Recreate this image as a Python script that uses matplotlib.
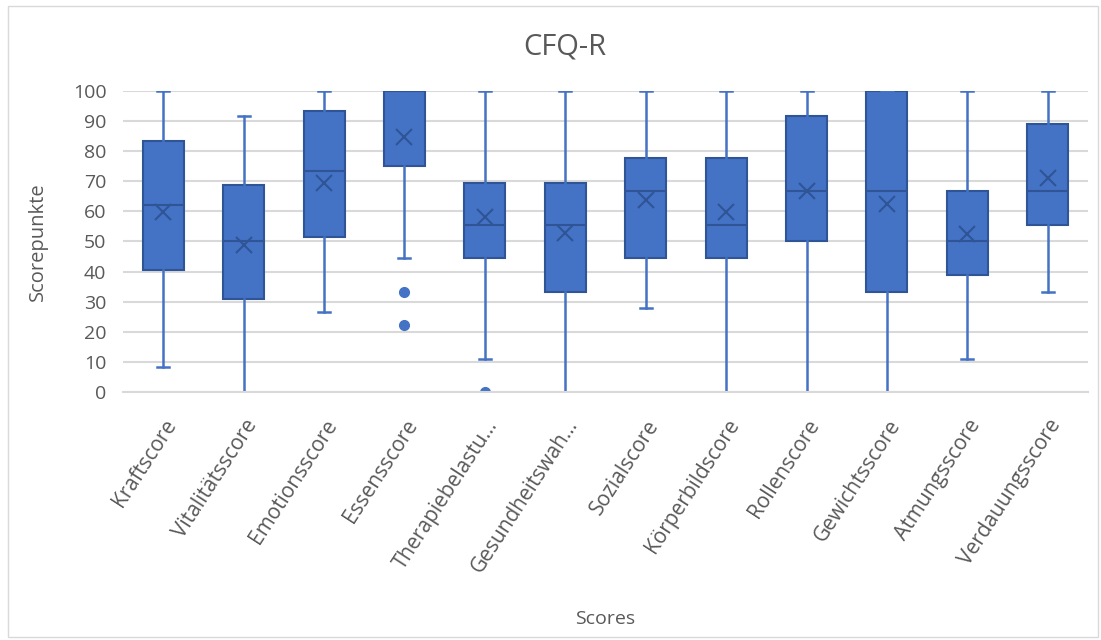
import matplotlib.pyplot as plt
from matplotlib.patches import Rectangle

plt.rcParams['font.family'] = ['Open Sans', 'DejaVu Sans']

# CFQ-R subscales
labels = ["Kraftscore", "Vitalitätsscore", "Emotionsscore", "Essensscore",
          "Therapiebelastu...", "Gesundheitswah...", "Sozialscore",
          "Körperbildscore", "Rollenscore", "Gewichtsscore", "Atmungsscore",
          "Verdauungsscore"]
whislo = [8.3, 0, 26.7, 44.4, 11.1, 0, 27.8, 0, 0, 0, 11.1, 33.3]
q1 = [40.5, 30.9, 51.6, 75.0, 44.4, 33.3, 44.4, 44.4, 50.0, 33.3, 38.9, 55.6]
med = [62.1, 50.0, 73.4, 100.0, 55.6, 55.6, 66.7, 55.6, 66.7, 66.7, 50.0, 66.7]
q3 = [83.3, 68.8, 93.4, 100.0, 69.4, 69.4, 77.8, 77.8, 91.7, 100.0, 66.7, 88.9]
whishi = [100, 91.7, 100, 100, 100, 100, 100, 100, 100, 100, 100, 100]
means = [59.8, 48.7, 69.5, 84.7, 58.1, 52.9, 63.7, 59.8, 66.7, 62.5, 52.6, 71.2]
outliers = [[], [], [], [33.3, 22.2], [0.0], [], [], [], [], [], [], []]

fill = "#4472C4"
edge = "#2F5597"
text_col = "#595959"

stats = []
for i in range(len(labels)):
    stats.append(dict(label=labels[i], whislo=whislo[i], q1=q1[i], med=med[i],
                      q3=q3[i], whishi=whishi[i], mean=means[i], fliers=outliers[i]))

fig = plt.figure(figsize=(11.01, 6.4), dpi=100)
ax = fig.add_axes([0.1117, 0.3875, 0.8765, 0.4705])

ax.bxp(stats, positions=range(len(labels)), widths=0.51, patch_artist=True,
       showmeans=True, showfliers=True,
       boxprops=dict(facecolor=fill, edgecolor=edge, linewidth=1.5),
       medianprops=dict(color=edge, linewidth=1.5),
       whiskerprops=dict(color=fill, linewidth=1.8),
       capprops=dict(color=fill, linewidth=1.8),
       capwidths=0.15,
       meanprops=dict(marker='x', markeredgecolor=edge, markersize=12, markeredgewidth=1.5),
       flierprops=dict(marker='o', markerfacecolor=fill, markeredgecolor=fill, markersize=7))

ax.set_xlim(-0.5, len(labels) - 0.5)
ax.set_ylim(0, 100)
ax.set_yticks(range(0, 101, 10))
ax.yaxis.grid(True, color="#D9D9D9", linewidth=1.5)
ax.set_axisbelow(True)
for s in ["left", "right", "top"]:
    ax.spines[s].set_visible(False)
ax.spines["bottom"].set_color("#D9D9D9")
ax.spines["bottom"].set_linewidth(1.5)
ax.tick_params(axis="both", length=0, colors=text_col, labelsize=14)
ax.tick_params(axis="y", pad=12)
ax.tick_params(axis="x", pad=17, labelsize=15)
ax.set_xticks(range(len(labels)))
ax.set_xticklabels(labels, rotation=57, ha="right", rotation_mode="anchor", color=text_col)

ax.set_ylabel("Scorepunkte", fontsize=14.5, color=text_col, labelpad=18)
fig.text(0.55, 0.025, "Scores", fontsize=14, color=text_col, ha="center")
fig.text(0.513, 0.915, "CFQ-R", fontsize=21, color=text_col, ha="center")

# light frame around the chart area
fig.patches.append(Rectangle((0.007, 0.005), 0.99, 0.986, transform=fig.transFigure,
                             fill=False, edgecolor="#D9D9D9", linewidth=1))

fig.savefig("out.png", dpi=100)
